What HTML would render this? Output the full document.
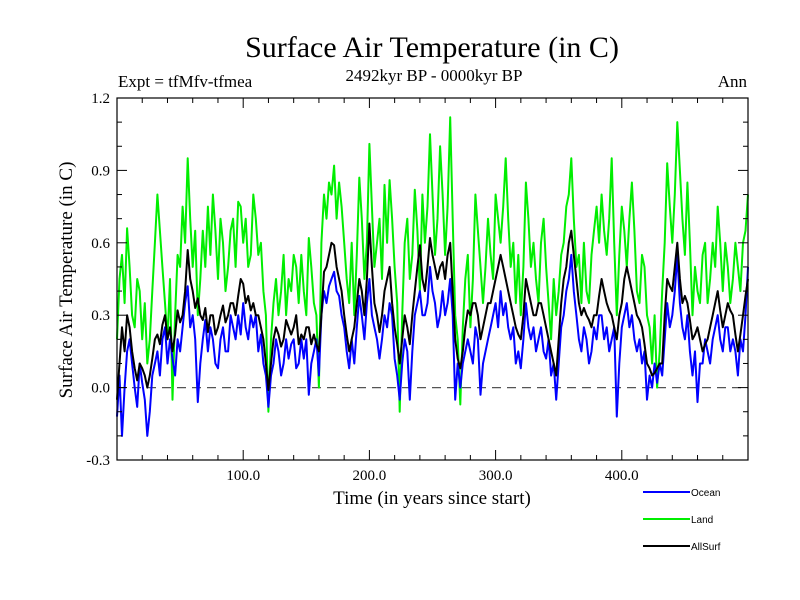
<!DOCTYPE html>
<html><head><meta charset="utf-8"><style>
body{margin:0;background:#fff;width:800px;height:600px;overflow:hidden}
svg{display:block}
</style></head><body>
<svg id="chart" width="800" height="600">
<text font-family="Liberation Serif, serif" x="432" y="57" font-size="30" text-anchor="middle">Surface Air Temperature (in C)</text>
<text font-family="Liberation Serif, serif" x="434" y="81" font-size="17" text-anchor="middle">2492kyr BP - 0000kyr BP</text>
<text font-family="Liberation Serif, serif" x="118" y="87" font-size="17">Expt = tfMfv-tfmea</text>
<text font-family="Liberation Serif, serif" x="747" y="87" font-size="17" text-anchor="end">Ann</text>
<text font-family="Liberation Serif, serif" x="72" y="280" font-size="19" text-anchor="middle" transform="rotate(-90 72 280)">Surface Air Temperature (in C)</text>
<text font-family="Liberation Serif, serif" x="432" y="504" font-size="19" text-anchor="middle">Time (in years since start)</text>
<g id="plot"></g>
<g id="legend"></g>
</svg>
<script>
const years=[];for(let i=0;i<=250;i++)years.push(i*2);
const land=[0.2,0.45,0.55,0.35,0.66,0.5,0.3,0.25,0.45,0.4,0.2,0.35,0.1,0.2,0.4,0.6,0.8,0.65,0.5,0.35,0.2,0.45,-0.05,0.3,0.55,0.5,0.75,0.6,0.95,0.7,0.5,0.65,0.3,0.45,0.65,0.5,0.75,0.55,0.8,0.65,0.45,0.7,0.6,0.4,0.5,0.65,0.7,0.5,0.77,0.75,0.6,0.7,0.5,0.55,0.8,0.7,0.55,0.6,0.4,0.3,-0.1,0.2,0.35,0.45,0.3,0.4,0.55,0.3,0.45,0.4,0.55,0.5,0.35,0.55,0.4,0.3,0.62,0.5,0.35,0.3,0.0,0.6,0.8,0.7,0.85,0.8,0.92,0.7,0.85,0.75,0.6,0.45,0.35,0.6,0.3,0.55,0.87,0.7,0.45,0.6,1.01,0.75,0.5,0.6,0.7,0.45,0.84,0.6,0.86,0.7,0.5,0.35,-0.1,0.3,0.6,0.7,0.45,0.55,0.82,0.65,0.4,0.8,0.6,0.75,1.05,0.8,0.55,0.7,1.0,0.8,0.55,0.75,1.12,0.7,0.3,0.2,-0.07,0.25,0.45,0.55,0.25,0.45,0.8,0.65,0.5,0.35,0.5,0.7,0.55,0.45,0.8,0.7,0.6,0.75,0.95,0.7,0.5,0.6,0.35,0.55,0.3,0.5,0.85,0.7,0.5,0.6,0.45,0.35,0.6,0.7,0.5,0.35,0.2,0.45,0.3,0.4,0.55,0.6,0.75,0.8,0.95,0.7,0.5,0.55,0.35,0.6,0.4,0.35,0.55,0.65,0.75,0.6,0.8,0.65,0.55,0.7,0.95,0.6,0.3,0.55,0.75,0.65,0.5,0.7,0.85,0.65,0.4,0.35,0.55,0.5,0.3,0.25,0.1,0.3,0.0,0.15,0.4,0.6,0.93,0.75,0.6,0.8,1.1,0.9,0.7,0.55,0.85,0.6,0.3,0.5,0.4,0.35,0.55,0.6,0.35,0.45,0.6,0.5,0.75,0.6,0.4,0.6,0.5,0.35,0.45,0.6,0.5,0.4,0.6,0.65,0.8];
const allsurf=[-0.05,0.1,0.25,0.15,0.3,0.25,0.15,0.08,0.03,0.1,0.08,0.05,0.0,0.05,0.12,0.2,0.22,0.18,0.26,0.3,0.2,0.25,0.15,0.22,0.32,0.27,0.3,0.4,0.57,0.45,0.4,0.33,0.37,0.3,0.28,0.33,0.23,0.3,0.3,0.22,0.25,0.3,0.34,0.27,0.3,0.35,0.35,0.3,0.38,0.45,0.43,0.35,0.38,0.32,0.35,0.3,0.3,0.25,0.2,0.1,-0.01,0.1,0.2,0.25,0.22,0.17,0.2,0.28,0.25,0.22,0.25,0.3,0.18,0.22,0.2,0.25,0.25,0.18,0.22,0.18,0.15,0.3,0.48,0.5,0.55,0.6,0.59,0.5,0.45,0.4,0.3,0.22,0.15,0.2,0.25,0.35,0.45,0.4,0.3,0.45,0.68,0.5,0.35,0.3,0.23,0.3,0.4,0.45,0.5,0.35,0.25,0.18,0.1,0.2,0.3,0.25,0.18,0.3,0.4,0.5,0.59,0.45,0.4,0.5,0.62,0.55,0.5,0.45,0.5,0.52,0.45,0.55,0.6,0.4,0.2,0.12,0.08,0.15,0.25,0.32,0.3,0.35,0.35,0.3,0.2,0.25,0.3,0.35,0.35,0.4,0.45,0.5,0.55,0.5,0.45,0.4,0.35,0.3,0.25,0.22,0.2,0.3,0.45,0.4,0.35,0.3,0.3,0.35,0.35,0.3,0.25,0.2,0.15,0.1,0.05,0.2,0.35,0.45,0.5,0.6,0.65,0.55,0.45,0.35,0.3,0.33,0.3,0.28,0.25,0.3,0.3,0.38,0.45,0.4,0.35,0.32,0.3,0.25,0.2,0.3,0.35,0.45,0.5,0.45,0.4,0.35,0.3,0.28,0.25,0.18,0.1,0.08,0.05,0.06,0.08,0.1,0.1,0.3,0.45,0.42,0.4,0.5,0.6,0.45,0.35,0.38,0.35,0.28,0.2,0.22,0.25,0.2,0.15,0.18,0.2,0.25,0.3,0.35,0.4,0.32,0.25,0.3,0.35,0.32,0.3,0.22,0.15,0.22,0.3,0.38,0.45];
const ocean=[-0.12,0.05,-0.2,0.0,0.15,0.2,0.1,0.0,-0.08,0.1,0.02,-0.05,-0.2,-0.1,0.05,0.1,0.15,0.05,0.2,0.25,0.1,0.2,0.12,0.05,0.2,0.15,0.25,0.35,0.42,0.25,0.3,0.2,-0.06,0.1,0.2,0.28,0.15,0.25,0.2,0.1,0.08,0.2,0.25,0.15,0.15,0.3,0.25,0.2,0.3,0.22,0.35,0.25,0.2,0.3,0.25,0.3,0.15,0.22,0.1,0.05,-0.08,0.05,0.1,0.2,0.15,0.05,0.1,0.2,0.12,0.18,0.2,0.08,0.1,0.2,0.12,0.2,-0.03,0.1,0.15,0.2,0.05,0.3,0.4,0.35,0.42,0.45,0.48,0.4,0.38,0.3,0.25,0.15,0.08,0.2,0.1,0.25,0.38,0.3,0.2,0.35,0.45,0.3,0.25,0.2,0.12,0.2,0.3,0.25,0.35,0.3,0.12,0.05,-0.05,0.1,0.2,0.15,-0.05,0.15,0.3,0.35,0.4,0.3,0.3,0.35,0.5,0.4,0.35,0.25,0.3,0.4,0.3,0.35,0.45,0.3,-0.05,0.1,0.0,0.1,0.15,0.2,0.15,0.1,0.25,0.2,-0.03,0.1,0.15,0.2,0.25,0.3,0.35,0.25,0.4,0.3,0.35,0.25,0.2,0.25,0.1,0.15,0.08,0.2,0.35,0.25,0.2,0.25,0.15,0.2,0.25,0.15,0.12,0.2,0.05,0.1,-0.05,0.1,0.25,0.3,0.4,0.45,0.55,0.4,0.3,0.2,0.15,0.25,0.2,0.1,0.15,0.25,0.2,0.3,0.3,0.2,0.25,0.15,0.2,0.25,-0.12,0.1,0.25,0.3,0.35,0.25,0.3,0.2,0.15,0.2,0.1,0.15,-0.05,0.05,0.0,0.1,0.02,0.1,0.05,0.2,0.35,0.25,0.3,0.4,0.55,0.35,0.25,0.2,0.3,0.15,0.05,0.15,-0.06,0.1,0.1,0.2,0.15,0.1,0.2,0.25,0.3,0.2,0.15,0.25,0.25,0.15,0.2,0.15,0.05,0.2,0.15,0.3,0.5];
const yTickLabels=["-0.3","0.0","0.3","0.6","0.9","1.2"];
const xTickLabels=["100.0","200.0","300.0","400.0"];
const X0=117,X1=748,Y0=98,Y1=460;
const xs=v=>X0+v/500*(X1-X0);
const ys=v=>Y1-(v+0.3)/1.5*(Y1-Y0);
const NS="http://www.w3.org/2000/svg";
const plot=document.getElementById('plot');
function mk(tag,attrs,parent){const e=document.createElementNS(NS,tag);for(const k in attrs)e.setAttribute(k,attrs[k]);(parent||plot).appendChild(e);return e;}
let z=mk('line',{x1:X0,x2:X1,y1:ys(0),y2:ys(0),stroke:'#555','stroke-dasharray':'9,6','stroke-width':1.2});


function series(vals,color,name){const n=Math.min(vals.length,years.length);let d='';
for(let i=0;i<n;i++)d+=(i?'L':'M')+xs(years[i]).toFixed(1)+','+ys(vals[i]).toFixed(1);
const p=mk('path',{d:d,fill:'none',stroke:color,'stroke-width':2,'stroke-linejoin':'round'});

}
series(land,'#00ee00','land-series');
series(ocean,'#0000ff','ocean-series');
series(allsurf,'#000000','allsurf-series');
let fr=mk('rect',{x:X0,y:Y0,width:X1-X0,height:Y1-Y0,fill:'none',stroke:'#000','stroke-width':1.2});


for(let k=-3;k<=12;k++){const v=k/10;const maj=k%3===0;const L=maj?10:5;const y=ys(v);
mk('line',{x1:X0,x2:X0+L,y1:y,y2:y,stroke:'#000'});mk('line',{x1:X1,x2:X1-L,y1:y,y2:y,stroke:'#000'});}
yTickLabels.forEach(t=>{const e=mk('text',{x:X0-7,y:ys(parseFloat(t))+5,'font-size':15,'text-anchor':'end','font-family':'Liberation Serif, serif'});e.textContent=t;

});
for(let v=20;v<500;v+=20){const maj=v%100===0;const L=maj?10:5;const x=xs(v);
mk('line',{x1:x,x2:x,y1:Y1,y2:Y1-L,stroke:'#000'});mk('line',{x1:x,x2:x,y1:Y0,y2:Y0+L,stroke:'#000'});}
xTickLabels.forEach(t=>{const e=mk('text',{x:xs(parseFloat(t)),y:Y1+20,'font-size':15,'text-anchor':'middle','font-family':'Liberation Serif, serif'});e.textContent=t;

});
const lg=document.getElementById('legend');
[['Ocean','#0000ff',492],['Land','#00ee00',519],['AllSurf','#000',546]].forEach(([n,c,y])=>{
const l=mk('line',{x1:643,x2:690,y1:y,y2:y,stroke:c,'stroke-width':2},lg);


const t=mk('text',{x:691,y:y+4,'font-size':10,'font-family':'Liberation Sans, sans-serif'},lg);t.textContent=n;

});
</script>
</body></html>
